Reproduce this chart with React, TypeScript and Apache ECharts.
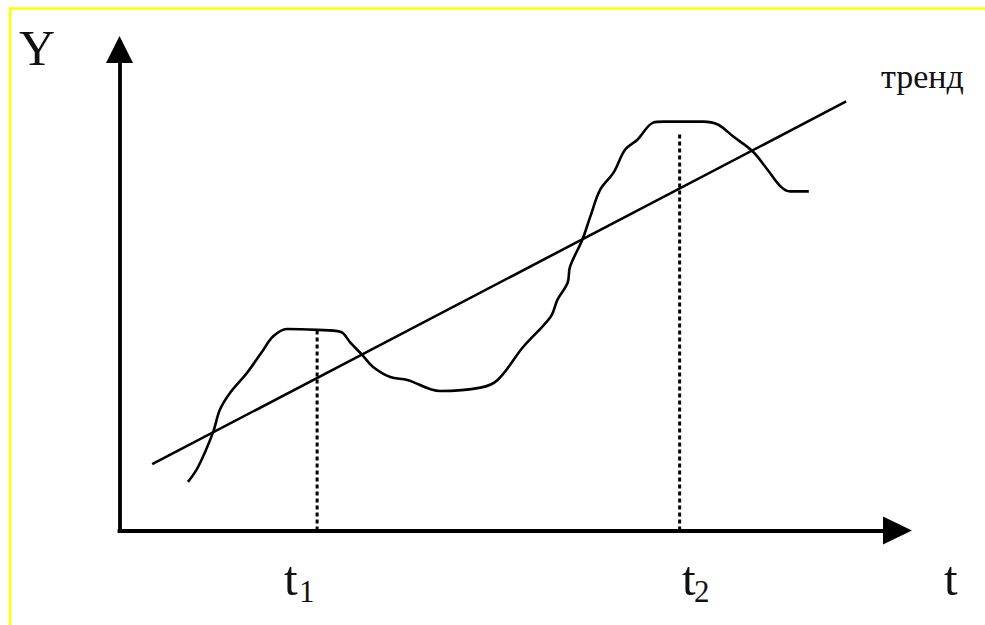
import React, { useEffect, useRef } from "react";
import * as echarts from "echarts";

// Axis domains (abstract units)
const T_MAX = 10;
const Y_MAX = 10;

// Observed series (hand-drawn wavy curve), [t, Y]
const curveT = [0.88, 1.01, 1.2, 1.29, 1.42, 1.64, 1.85, 1.97, 2.15, 2.54, 2.84, 2.97, 3.12, 3.26, 3.48, 3.7, 4.12, 4.64, 4.86, 5.19, 5.54, 5.63, 5.76, 5.79, 5.95, 6.05, 6.18, 6.35, 6.5, 6.66, 6.86, 6.99, 7.5, 7.69, 7.89, 8.14, 8.33, 8.5, 8.62, 8.86];
const curveY = [1.01, 1.32, 2.03, 2.51, 2.86, 3.28, 3.76, 4.03, 4.19, 4.17, 4.13, 3.9, 3.65, 3.4, 3.19, 3.13, 2.9, 2.97, 3.13, 3.82, 4.44, 4.8, 5.15, 5.48, 6.05, 6.52, 7.09, 7.44, 7.92, 8.13, 8.48, 8.5, 8.5, 8.44, 8.19, 7.88, 7.5, 7.15, 7.05, 7.05];

// Trend line endpoints
const trendT = [0.42, 9.34];
const trendY = [1.38, 8.92];

// Marked moments t1, t2 (dotted verticals)
const markT = [2.54, 7.2];
const markTopY = [4.17, 8.27];

const FONT = "'Liberation Serif', 'Times New Roman', serif";

export default function App() {
  const ref = useRef<HTMLDivElement>(null);
  useEffect(() => {
    if (!ref.current) return;
    const chart = echarts.init(ref.current, undefined, { renderer: "svg" });
    const curve = curveT.map((t, i) => [t, curveY[i]]);
    const trend = trendT.map((t, i) => [t, trendY[i]]);
    const dotted = markT.map((t, i) => ({
      type: "line",
      data: [[t, 0], [t, markTopY[i]]],
      showSymbol: false,
      symbol: "none",
      silent: true,
      lineStyle: { color: "#000", width: 3, type: [4, 3] },
      z: 2,
    }));
    const txt = (text: string, x: number, y: number, size: number) => ({
      type: "text",
      x,
      y,
      style: {
        text,
        font: `${size}px ${FONT}`,
        fill: "#111",
        textAlign: "left",
        textVerticalAlign: "middle",
        verticalAlign: "middle",
      },
      z: 10,
    });
    chart.setOption({
      animation: false,
      backgroundColor: "#fff",
      grid: { left: 119.5, right: 87.5, top: 49.5, bottom: 94.5, outerBoundsMode: "none" },
      xAxis: {
        type: "value",
        min: 0,
        max: T_MAX,
        axisLine: {
          show: true,
          symbol: ["none", "triangle"],
          symbolSize: [28, 29],
          lineStyle: { color: "#000", width: 3.8, cap: "square" },
        },
        axisTick: { show: false },
        axisLabel: { show: false },
        splitLine: { show: false },
      },
      yAxis: {
        type: "value",
        min: 0,
        max: Y_MAX,
        axisLine: {
          show: true,
          symbol: ["none", "triangle"],
          symbolSize: [27, 27],
          lineStyle: { color: "#000", width: 3.8, cap: "square" },
        },
        axisTick: { show: false },
        axisLabel: { show: false },
        splitLine: { show: false },
      },
      series: [
        {
          type: "line",
          data: curve,
          smooth: 0.35,
          showSymbol: false,
          symbol: "none",
          lineStyle: { color: "#000", width: 2.6 },
          z: 3,
        },
        {
          type: "line",
          data: trend,
          showSymbol: false,
          symbol: "none",
          lineStyle: { color: "#000", width: 2.6 },
          z: 3,
        },
        ...dotted,
      ],
      graphic: [
        {
          type: "rect",
          shape: { x: 10, y: 8.5, width: 1000, height: 700 },
          style: { fill: "none", stroke: "#ffff00", lineWidth: 2.5 },
          z: 0,
          silent: true,
        },
        txt("Y", 19, 48, 50),
        txt("тренд", 881, 76, 34),
        txt("t", 284, 578, 49),
        txt("1", 299, 591, 31),
        txt("t", 682, 578, 49),
        txt("2", 694, 591, 31),
        txt("t", 944, 578, 49),
      ],
    });
    return () => chart.dispose();
  }, []);
  return (
    <div
      ref={ref}
      style={{ position: "absolute", left: 0, top: 0, width: 985, height: 625, background: "#fff" }}
    />
  );
}
